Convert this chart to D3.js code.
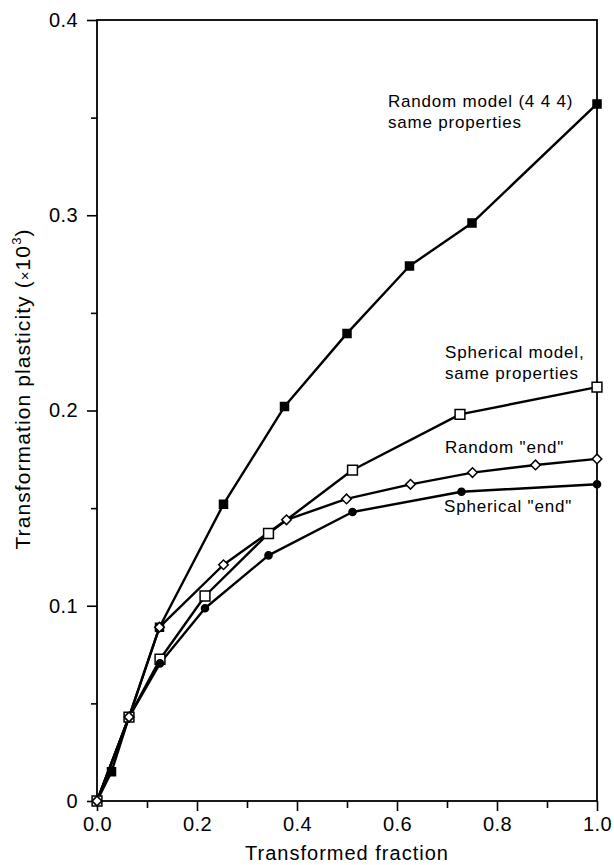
<!DOCTYPE html>
<html>
<head>
<meta charset="utf-8">
<script src="https://cdn.jsdelivr.net/npm/d3@7"></script>
<style>
  html, body { margin: 0; padding: 0; background: #fff; }
  svg text { font-family: "Liberation Sans", Arial, sans-serif; fill: #000; }
</style>
</head>
<body>
<svg id="chart" width="614" height="865"></svg>
<script>
// --- Daten ---
const randomModelX = [0, 0.029, 0.064, 0.125, 0.253, 0.375, 0.5, 0.625, 0.75, 1.0];
const randomModelY = [0, 0.015, 0.043, 0.089, 0.152, 0.202, 0.2395, 0.274, 0.296, 0.357];

const sphericalModelX = [0, 0.064, 0.126, 0.216, 0.343, 0.511, 0.726, 1.0];
const sphericalModelY = [0, 0.043, 0.0726, 0.105, 0.137, 0.1695, 0.198, 0.212];

const randomEndX = [0, 0.064, 0.125, 0.253, 0.379, 0.499, 0.627, 0.751, 0.877, 1.0];
const randomEndY = [0, 0.043, 0.089, 0.121, 0.144, 0.1547, 0.1622, 0.1682, 0.1721, 0.1752];

const sphericalEndX = [0, 0.064, 0.126, 0.216, 0.343, 0.511, 0.729, 1.0];
const sphericalEndY = [0, 0.043, 0.0705, 0.0987, 0.1258, 0.148, 0.1584, 0.1622];

const xTickValues = [0, 0.2, 0.4, 0.6, 0.8, 1.0];
const xMinorTicks = [0.1, 0.3, 0.5, 0.7, 0.9];
const yTickValues = [0, 0.1, 0.2, 0.3, 0.4];
const yMinorTicks = [0.05, 0.15, 0.25, 0.35];
const xTickLabels = ['0.0', '0.2', '0.4', '0.6', '0.8', '1.0'];
const yTickLabels = ['0', '0.1', '0.2', '0.3', '0.4'];

// --- Layout ---
const margin = { left: 97, top: 20, right: 17, bottom: 64 };
const width = 614 - margin.left - margin.right;
const height = 865 - margin.top - margin.bottom;

const svg = d3.select('#chart');
const g = svg.append('g').attr('transform', `translate(${margin.left},${margin.top})`);

const x = d3.scaleLinear().domain([0, 1]).range([0, width]);
const y = d3.scaleLinear().domain([0, 0.4]).range([height, 0]);

// Serien zusammenbauen (Raute = um 45° gedrehtes Quadrat)
const zip = (xs, ys) => xs.map((v, i) => [v, ys[i]]);
const series = [
  { name: 'randomModel', points: zip(randomModelX, randomModelY), symbol: d3.symbolSquare, size: 64, fill: '#000', rot: 0 },
  { name: 'sphericalModel', points: zip(sphericalModelX, sphericalModelY), symbol: d3.symbolSquare, size: 96, fill: '#fff', rot: 0 },
  { name: 'sphericalEnd', points: zip(sphericalEndX, sphericalEndY), symbol: d3.symbolCircle, size: 40, fill: '#000', rot: 0 },
  { name: 'randomEnd', points: zip(randomEndX, randomEndY), symbol: d3.symbolSquare, size: 46, fill: '#fff', rot: 45 },
];

// --- Achsen ---
const xAxis = d3.axisBottom(x).tickValues(xTickValues).tickSize(10).tickPadding(6)
  .tickFormat((d, i) => xTickLabels[i]);
const yAxis = d3.axisLeft(y).tickValues(yTickValues).tickSize(10).tickPadding(9)
  .tickFormat((d, i) => yTickLabels[i]);

const gx = g.append('g').attr('transform', `translate(0,${height})`).call(xAxis);
const gy = g.append('g').call(yAxis);

// Nebenstriche
g.append('g').attr('transform', `translate(0,${height})`)
  .call(d3.axisBottom(x).tickValues(xMinorTicks).tickSize(7).tickFormat(''));
g.append('g')
  .call(d3.axisLeft(y).tickValues(yMinorTicks).tickSize(6).tickFormat(''));

g.selectAll('.domain').remove();
g.selectAll('.tick line').attr('stroke', '#000').attr('stroke-width', 1.6);
[gx, gy].forEach(a => a.selectAll('text')
  .attr('font-size', 20).attr('letter-spacing', 0.4).attr('fill', '#000'));

// Rahmen
g.append('rect')
  .attr('x', 0).attr('y', 0).attr('width', width).attr('height', height)
  .attr('fill', 'none').attr('stroke', '#000').attr('stroke-width', 1.8);

// --- Linien ---
const line = d3.line().x(d => x(d[0])).y(d => y(d[1]));
series.forEach(s => {
  g.append('path')
    .datum(s.points)
    .attr('d', line)
    .attr('fill', 'none')
    .attr('stroke', '#000')
    .attr('stroke-width', 2.4)
    .attr('stroke-linejoin', 'round');
});

// --- Marker ---
series.forEach(s => {
  g.append('g').selectAll('path')
    .data(s.points)
    .join('path')
    .attr('transform', d => `translate(${x(d[0])},${y(d[1])}) rotate(${s.rot})`)
    .attr('d', d3.symbol().type(s.symbol).size(s.size))
    .attr('fill', s.fill)
    .attr('stroke', '#000')
    .attr('stroke-width', 1.5);
});

// --- Beschriftungen ---
const labels = [
  { lines: ['Random model (4 4 4)', 'same properties'], x: 388, y: 107 },
  { lines: ['Spherical model,', 'same properties'], x: 445, y: 358 },
  { lines: ['Random "end"'], x: 445, y: 453 },
  { lines: ['Spherical "end"'], x: 444, y: 512 },
];
labels.forEach(l => {
  const t = svg.append('text').attr('font-size', 17).attr('letter-spacing', 0.8);
  l.lines.forEach((s, i) => {
    t.append('tspan').attr('x', l.x).attr('y', l.y + i * 21).text(s);
  });
});

// Achsentitel
svg.append('text')
  .attr('x', margin.left + width / 2).attr('y', 860)
  .attr('text-anchor', 'middle').attr('font-size', 20).attr('letter-spacing', 1)
  .text('Transformed fraction');

const yTitle = svg.append('text')
  .attr('transform', 'translate(30,389) rotate(-90)')
  .attr('text-anchor', 'middle').attr('font-size', 21).attr('letter-spacing', 1.1);
yTitle.append('tspan').text('Transformation plasticity (');
yTitle.append('tspan').attr('font-size', 15).text('\u00d7');
yTitle.append('tspan').text('10');
yTitle.append('tspan').attr('font-size', 13).attr('dy', -9).text('3');
yTitle.append('tspan').attr('dy', 9).text(')');
</script>
</body>
</html>
